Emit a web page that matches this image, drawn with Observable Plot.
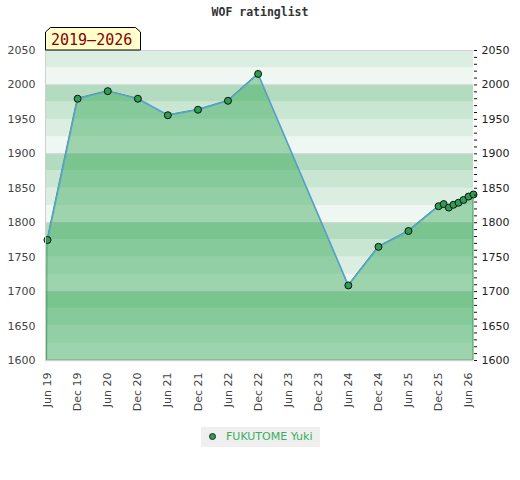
<!DOCTYPE html>
<html><head><meta charset="utf-8">
<script src="https://cdn.jsdelivr.net/npm/d3@7"></script>
<script src="https://cdn.jsdelivr.net/npm/@observablehq/plot@0.6"></script>
<style>
body{margin:0;background:#fff;}
#wrap{position:relative;width:520px;height:480px;font-family:"DejaVu Sans",sans-serif;}
#title{position:absolute;left:0;top:5px;width:520px;text-align:center;font:bold 11.5px "DejaVu Sans Mono",monospace;color:#333;}
#badge{position:absolute;left:0;top:0;}
#legend{position:absolute;left:201px;top:427px;width:119px;height:20px;background:#efefef;}
#legend .dot{position:absolute;left:8px;top:6px;width:7px;height:7px;border-radius:50%;background:#2f9e52;border:1px solid #222;box-sizing:border-box;}
#legend .lab{position:absolute;left:25px;top:3px;font:11px "DejaVu Sans",sans-serif;color:#3aae5e;white-space:nowrap;}
</style></head>
<body>
<div id="wrap">
<div id="plot"></div>
<div id="title">WOF ratinglist</div>
<svg id="badge" width="160" height="60">
  <polygon points="45.5,50 45.5,32 50.5,27.5 135.5,27.5 140.5,32 140.5,50" fill="#ffffcc" stroke="#000" stroke-width="1"/>
  <text x="51" y="45" font-family="DejaVu Sans Mono, monospace" font-size="15" fill="#8b0000">2019–2026</text>
</svg>
<div id="legend"><div class="dot"></div><div class="lab">FUKUTOME Yuki</div></div>
</div>
<script>
const playerName = "FUKUTOME Yuki";
const dates = ["2019-06-01","2019-12-01","2020-06-01","2020-12-01","2021-06-01","2021-12-01","2022-06-01","2022-12-01",
  "2024-06-01","2024-12-01","2025-06-01","2025-12-01","2026-01-01","2026-02-01","2026-03-01","2026-04-01","2026-05-01","2026-06-01","2026-07-01"];
const ratings = [1775,1980,1991,1980,1956,1964,1977,2016,1709,1765,1788,1824,1827,1822,1826,1829,1833,1838,1841];
const xTickDates = ["2019-06-01","2019-12-01","2020-06-01","2020-12-01","2021-06-01","2021-12-01","2022-06-01","2022-12-01",
  "2023-06-01","2023-12-01","2024-06-01","2024-12-01","2025-06-01","2025-12-01","2026-06-01"];
const yMin = 1600, yMax = 2050;

const data = dates.map((d,i)=>({date:new Date(d), r:ratings[i]}));
const bandColors = ["#b3dbbf","#c9e6d3","#dceee2","#eff7f2"]; // from each hundred downward
const bands = d3.range(yMin, yMax, 25).map(lo => {
  const k = Math.round((Math.ceil((lo+25)/100)*100 - (lo+25))/25);
  return {lo, hi: lo+25, c: bandColors[k]};
});
const hundreds = d3.range(1700, yMax, 100);

const chart = Plot.plot({
  width: 520, height: 480,
  marginTop: 50, marginBottom: 120, marginLeft: 45, marginRight: 47,
  insetLeft: 2,
  style: {fontFamily: "DejaVu Sans, sans-serif", fontSize: "11px", background: "transparent"},
  x: {type: "utc", domain: [data[0].date, data[data.length-1].date]},
  y: {domain: [yMin, yMax]},
  color: {type: "identity"},
  marks: [
    Plot.rect(bands, {y1: "lo", y2: "hi", fill: "c"}),
    Plot.ruleY(hundreds, {stroke: "#d2d2d2", strokeWidth: 1}),
    Plot.ruleY([yMax], {stroke: "#d2d2d2"}),
    Plot.areaY(data, {x: "date", y1: () => yMin, y2: "r", fill: "#2ba44f", fillOpacity: 0.42, stroke: "#3a9d5a", strokeWidth: 1}),
    Plot.ruleY([yMin], {stroke: "#cfcfcf", strokeWidth: 1.5}),
    Plot.lineY(data, {x: "date", y: "r", stroke: "#5aa0d8", strokeWidth: 1.5}),
    Plot.dot(data, {x: "date", y: "r", r: 3.5, fill: "#2f9e52", stroke: "#111", strokeWidth: 1}),
    Plot.axisY({anchor: "left", ticks: d3.range(yMin, yMax+1, 50), tickSize: 0, tickPadding: 10, fill: "#444", label: null, tickFormat: d => String(d)}),
    Plot.axisY({anchor: "right", ticks: d3.range(yMin, yMax+1, 10), tickSize: 3, tickPadding: 5, fill: "#222", stroke: "#111", label: null, tickFormat: d => d % 50 === 0 ? String(d) : ""}),
    Plot.axisX({ticks: xTickDates.map(d => new Date(d)), tickFormat: d3.utcFormat("%b %y"), tickRotate: -90, tickSize: 0, tickPadding: 12, fill: "#444", label: null})
  ]
});
// left frame border
const svg = d3.select(chart);
svg.append("line").attr("x1",45.5).attr("x2",45.5).attr("y1",50).attr("y2",360).attr("stroke","#d0d0d0");
document.getElementById("plot").appendChild(chart);
</script>
</body></html>
